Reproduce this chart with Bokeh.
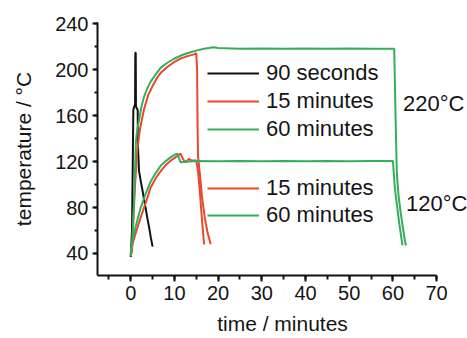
from bokeh.plotting import figure
from bokeh.models import (Range1d, SingleIntervalTicker, Legend, LegendItem, Label)
from bokeh.embed import file_html
from bokeh.resources import INLINE

# ---------------- data ----------------
# 90 seconds (black)
t_90s = [0.0, 0.3, 0.4, 0.5, 0.6, 0.8, 1.0, 1.05, 1.15, 1.2, 1.6, 1.65, 1.9, 2.3, 2.7, 3.0, 3.4, 3.8, 4.2, 4.6, 5.0]
T_90s = [37, 60, 96, 130, 165, 168, 170, 215, 215, 168, 165, 134, 112, 103, 95, 88, 80, 71, 63, 54, 46]

# 220 °C, 15 minutes (red)
t_220_15 = [0.0, 0.3, 0.6, 1.0, 1.5, 2.1, 3.0, 4.0, 5.0, 6.0, 7.0, 8.5, 10.0, 11.5, 13.0, 14.5, 15.0,
            15.2, 15.3, 15.4, 15.8, 16.3, 17.0, 17.6, 18.3]
T_220_15 = [38, 42, 70, 100, 130, 148, 165, 178, 186, 193, 198, 203, 207, 210, 212, 213.5, 214.5,
            200, 150, 125, 110, 90, 70, 58, 48]

# 220 °C, 60 minutes (green)
t_220_60 = [0.0, 0.4, 0.7, 1.0, 1.2, 1.5, 1.9, 2.4, 3.0, 3.8, 4.6, 5.7, 6.9, 8.3, 9.9, 11.8, 13.7, 15.2,
            16.8, 19.0, 20.0, 25.0, 30.0, 35.0, 40.0, 45.0, 50.0, 55.0, 60.3,
            60.6, 60.9, 61.3, 61.8, 62.3, 62.8, 63.0]
T_220_60 = [38, 51, 80, 115, 138, 148, 156, 167, 176, 184, 190, 196, 202, 206, 209.7, 213, 215.4, 217,
            218.4, 219.8, 219, 218.5, 218.7, 218.4, 218.6, 218.5, 218.6, 218.4, 218.5,
            160, 110, 90, 75, 62, 50, 47]

# 120 °C, 15 minutes (red)
t_120_15 = [0.0, 1.0, 2.3, 3.5, 4.6, 5.8, 6.9, 8.0, 9.2, 10.3, 11.4, 12.0, 12.6, 13.3, 14.0, 15.0,
            15.4, 15.8, 16.1, 16.4, 16.8]
T_120_15 = [42.6, 56, 71.6, 85, 97.8, 106, 112, 117, 121, 124, 127, 122, 119.6, 122.5, 121, 121,
            112, 95, 80, 65, 48]

# 120 °C, 60 minutes (green)
t_120_60 = [0.0, 0.4, 1.3, 2.3, 3.4, 4.6, 5.7, 6.9, 8.0, 9.2, 10.0, 10.7, 11.4, 15.0, 20.0, 25.0, 30.0,
            35.0, 40.0, 45.0, 50.0, 55.0, 60.0, 60.2, 60.5, 61.0, 61.5, 62.0, 62.2]
T_120_60 = [40, 51, 66, 80, 92, 103, 110, 116.7, 120.5, 124, 126, 127, 119.6, 120.5, 120.3, 120.6, 120.4,
            120.5, 120.3, 120.6, 120.4, 120.5, 120.5, 110, 95, 80, 65, 52, 47]

legend_220 = ["90 seconds", "15 minutes", "60 minutes"]
legend_120 = ["15 minutes", "60 minutes"]
temp_labels = ["220°C", "120°C"]

x_ticks_interval = 10
y_ticks_interval = 40

# ---------------- styling ----------------
FONT = "Liberation Sans"
TXT = "#151515"
BLACK = "#111111"
RED = "#e8482b"
GREEN = "#35ae5b"
LW = 2

p = figure(width=467, height=338, output_backend="svg", toolbar_location=None,
           x_range=Range1d(-7.6, 77.07), y_range=Range1d(20.8, 241.3),
           min_border_left=97, min_border_right=0, min_border_top=22, min_border_bottom=63)
p.outline_line_color = None
p.xgrid.visible = False
p.ygrid.visible = False
p.background_fill_color = "white"
p.border_fill_color = "white"

r_black = p.line(t_90s, T_90s, line_color=BLACK, line_width=LW)
r_red220 = p.line(t_220_15, T_220_15, line_color=RED, line_width=LW)
r_green220 = p.line(t_220_60, T_220_60, line_color=GREEN, line_width=LW)
r_red120 = p.line(t_120_15, T_120_15, line_color=RED, line_width=LW)
r_green120 = p.line(t_120_60, T_120_60, line_color=GREEN, line_width=LW)

for ax in (p.xaxis[0], p.yaxis[0]):
    ax.axis_line_width = 2
    ax.axis_line_color = BLACK
    ax.major_tick_line_width = 2
    ax.minor_tick_line_width = 2
    ax.major_tick_line_color = BLACK
    ax.minor_tick_line_color = BLACK
    ax.major_tick_in = 0
    ax.minor_tick_in = 0
    ax.major_label_text_font = FONT
    ax.major_label_text_font_size = "20px"
    ax.major_label_text_color = TXT
    ax.axis_label_text_font = FONT
    ax.axis_label_text_font_size = "21px"
    ax.axis_label_text_font_style = "normal"
    ax.axis_label_text_color = TXT

p.xaxis.ticker = SingleIntervalTicker(interval=x_ticks_interval, num_minor_ticks=2)
p.yaxis.ticker = SingleIntervalTicker(interval=y_ticks_interval, num_minor_ticks=2)
p.xaxis.bounds = (-7.6, 70.01)
p.xaxis.major_tick_out = 6
p.xaxis.minor_tick_out = 4
p.yaxis.major_tick_out = 5
p.yaxis.minor_tick_out = 3
p.xaxis.major_label_standoff = 4
p.yaxis.major_label_standoff = 4
p.xaxis.axis_label = "time / minutes"
p.yaxis.axis_label = "temperature / °C"
p.xaxis.axis_label_standoff = 9
p.yaxis.axis_label_standoff = 17

def make_legend(labels, renderers, loc, spacing):
    lg = Legend(items=[LegendItem(label=l, renderers=[r]) for l, r in zip(labels, renderers)],
                location=loc, orientation="vertical")
    lg.label_text_font = FONT
    lg.label_text_font_size = "22px"
    lg.label_text_color = TXT
    lg.glyph_width = 52
    lg.glyph_height = 26
    lg.label_height = 26
    lg.spacing = spacing
    lg.padding = 0
    lg.margin = 0
    lg.label_standoff = 7
    lg.border_line_color = None
    lg.background_fill_alpha = 0
    return lg

p.add_layout(make_legend(legend_220, [r_black, r_red220, r_green220], (110, 133), 2))
p.add_layout(make_legend(legend_120, [r_red120, r_green120], (110, 47), 1))

p.add_layout(Label(x=62.3, y=170.7, text=temp_labels[0], text_baseline="middle",
                   text_font=FONT, text_font_size="22px", text_color=TXT))
p.add_layout(Label(x=63.0, y=83.6, text=temp_labels[1], text_baseline="middle",
                   text_font=FONT, text_font_size="22px", text_color=TXT))

open("out.html", "w").write(file_html(p, INLINE))
